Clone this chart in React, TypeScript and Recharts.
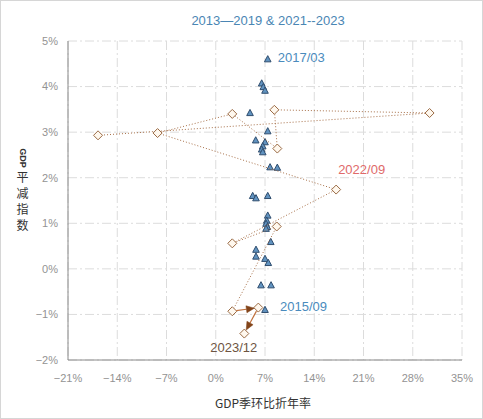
import React from 'react';
import { ScatterChart, Scatter, XAxis, YAxis, CartesianGrid } from 'recharts';

const xTicks = [-21, -14, -7, 0, 7, 14, 21, 28, 35];
const yTicks = [-2, -1, 0, 1, 2, 3, 4, 5];

// 2013-2019 quarterly points (GDP q/q annualized %, GDP deflator y/y %)
const triX = [7.39, 6.53, 6.76, 7.0, 4.87, 7.39, 5.68, 7.0, 6.68, 6.53, 6.68, 7.72, 8.75, 5.25, 5.72, 7.39, 7.39, 7.25, 7.15, 7.33, 7.15, 7.82, 5.72, 5.72, 7.0, 7.47, 6.43, 7.86, 7.0];
const triY = [4.6, 4.07, 3.99, 3.91, 3.42, 3.02, 2.82, 2.78, 2.69, 2.62, 2.56, 2.23, 2.22, 1.6, 1.55, 1.6, 1.17, 1.06, 0.99, 0.92, 0.88, 0.59, 0.42, 0.27, 0.22, 0.13, -0.36, -0.36, -0.9];

// 2021-2023 quarterly path
const qLabels = ['2021/03', '2021/06', '2021/09', '2021/12', '2022/03', '2022/06', '2022/09', '2022/12', '2023/03', '2023/06', '2023/09', '2023/12'];
const qX = [-16.73, 30.39, 8.33, 8.75, 2.35, -8.27, 17.11, 2.35, 8.67, 2.35, 6.05, 4.06];
const qY = [2.93, 3.42, 3.49, 2.64, 3.4, 2.98, 1.74, 0.56, 0.93, -0.93, -0.85, -1.42];

const annTexts = ['2017/03', '2015/09', '2022/09', '2023/12'];
const annX = [7.39, 7.0, 17.11, 4.06];
const annY = [4.6, -0.9, 1.74, -1.42];

const annStyle: Record<string, { dx: number; dy: number; color: string }> = {
  '2017/03': { dx: 10, dy: -2, color: '#4a8bbd' },
  '2015/09': { dx: 15, dy: -3, color: '#4a8bbd' },
  '2022/09': { dx: 2, dy: -20, color: '#e06a6a' },
  '2023/12': { dx: -34, dy: 14, color: '#6e5442' },
};

const triData = triX.map((x, i) => ({ x, y: triY[i] }));
const pathData = qX.slice(0, 10).map((x, i) => ({ x, y: qY[i], label: qLabels[i] }));
const tailData = qX.slice(10).map((x, i) => ({ x, y: qY[i + 10], label: qLabels[i + 10] }));
const arrowData = qX.slice(9).map((x, i) => ({ x, y: qY[i + 9], label: qLabels[i + 9] }));
const annData = annTexts.map((t, i) => ({ x: annX[i], y: annY[i], text: t }));

const FONT = '"Liberation Sans", Arial, sans-serif';

const Triangle = (p: any) => {
  const { cx, cy } = p;
  if (cx == null || cy == null) return null;
  return (
    <path
      d={`M${cx},${cy - 3.6} L${cx + 3.3},${cy + 2.6} L${cx - 3.3},${cy + 2.6} Z`}
      fill="#6193c0"
      stroke="#2f4d6e"
      strokeWidth={1}
    />
  );
};

const Diamond = (p: any) => {
  const { cx, cy } = p;
  if (cx == null || cy == null) return null;
  return (
    <path
      d={`M${cx},${cy - 4.5} L${cx + 4.5},${cy} L${cx},${cy + 4.5} L${cx - 4.5},${cy} Z`}
      fill="#fff8ee"
      stroke="#9a6a44"
      strokeWidth={1}
    />
  );
};

const Nothing = () => <g />;

const ArrowLine = (p: any) => {
  const pts = p.points || [];
  const segs: React.ReactNode[] = [];
  for (let i = 0; i < pts.length - 1; i++) {
    const a = pts[i];
    const b = pts[i + 1];
    const dx = b.x - a.x;
    const dy = b.y - a.y;
    const len = Math.sqrt(dx * dx + dy * dy) || 1;
    const ux = dx / len;
    const uy = dy / len;
    const tipX = b.x - ux * 4;
    const tipY = b.y - uy * 4;
    const baseX = tipX - ux * 8;
    const baseY = tipY - uy * 8;
    const nx = -uy;
    const ny = ux;
    segs.push(
      <g key={i}>
        <line x1={a.x + ux * 4} y1={a.y + uy * 4} x2={baseX} y2={baseY} stroke="#c0703c" strokeWidth={1.2} />
        <path
          d={`M${tipX},${tipY} L${baseX + nx * 3.5},${baseY + ny * 3.5} L${baseX - nx * 3.5},${baseY - ny * 3.5} Z`}
          fill="#82441a"
          stroke="#82441a"
          strokeWidth={0.5}
        />
      </g>
    );
  }
  return <g>{segs}</g>;
};

const AnnLabel = (p: any) => {
  const { cx, cy, payload } = p;
  if (cx == null || cy == null || !payload) return null;
  const s = annStyle[payload.text];
  return (
    <text
      x={cx + s.dx}
      y={cy + s.dy}
      fill={s.color}
      fontSize={13}
      fontFamily={FONT}
      dominantBaseline="central"
    >
      {payload.text}
    </text>
  );
};

const fmt = (v: number) => `${v < 0 ? '\u2212' : ''}${Math.abs(v)}%`;

export default function App() {
  return (
    <div style={{ position: 'absolute', left: 0, top: 0, width: 483, height: 419, background: '#fff' }}>
      <ScatterChart width={483} height={419} margin={{ top: 41, right: 21, bottom: 0, left: 0 }}>
        <CartesianGrid stroke="#dcdcdc" strokeDasharray="9 3 2 3" />
        <XAxis
          type="number"
          dataKey="x"
          domain={[-21, 35]}
          ticks={xTicks}
          tickFormatter={fmt}
          interval={0}
          height={59}
          axisLine={{ stroke: '#8a8a8a' }}
          tickLine={false}
          tickMargin={8}
          tick={{ fill: '#939393', fontSize: 11, fontFamily: FONT }}
          allowDataOverflow
        />
        <YAxis
          type="number"
          dataKey="y"
          domain={[-2, 5]}
          ticks={yTicks}
          tickFormatter={fmt}
          interval={0}
          width={68}
          axisLine={{ stroke: '#8a8a8a' }}
          tickLine={false}
          tickMargin={4}
          tick={{ fill: '#939393', fontSize: 11, fontFamily: FONT }}
          allowDataOverflow
        />
        <Scatter data={triData} shape={<Triangle />} isAnimationActive={false} />
        <Scatter
          data={pathData}
          shape={<Diamond />}
          line={{ stroke: '#a8714a', strokeWidth: 1, strokeDasharray: '1 2' }}
          lineJointType="linear"
          isAnimationActive={false}
        />
        <Scatter data={tailData} shape={<Diamond />} isAnimationActive={false} />
        <Scatter data={arrowData} shape={<Nothing />} line={ArrowLine} isAnimationActive={false} />
        <Scatter data={annData} shape={<AnnLabel />} isAnimationActive={false} />
      </ScatterChart>
      <svg
        width={483}
        height={419}
        style={{ position: 'absolute', left: 0, top: 0, pointerEvents: 'none' }}
      >
        <rect x={0.5} y={0.5} width={482} height={418} fill="none" stroke="#d6d6d6" />
        <text x={268} y={20} textAnchor="middle" dominantBaseline="central" fontSize={13} fontFamily={FONT} fill="#4a86b4">
          2013—2019 &amp; 2021--2023
        </text>
        <text x={263} y={402} textAnchor="middle" dominantBaseline="central" fontSize={12} fontFamily='"Noto Sans CJK SC", sans-serif' fill="#333">
          GDP季环比折年率
        </text>
        <g transform="translate(22.5,158) rotate(90)">
          <text
            x={0}
            y={0}
            textAnchor="middle"
            dominantBaseline="central"
            fontSize={9}
            fontWeight="bold"
            fontFamily={FONT}
            fill="#333"
          >
            GDP
          </text>
        </g>
        {['平', '减', '指', '数'].map((c, i) => (
          <text
            key={c}
            x={22.5}
            y={176 + i * 16}
            textAnchor="middle"
            dominantBaseline="central"
            fontSize={12}
            fontFamily='"Noto Sans CJK SC", sans-serif'
            fill="#333"
          >
            {c}
          </text>
        ))}
      </svg>
    </div>
  );
}
